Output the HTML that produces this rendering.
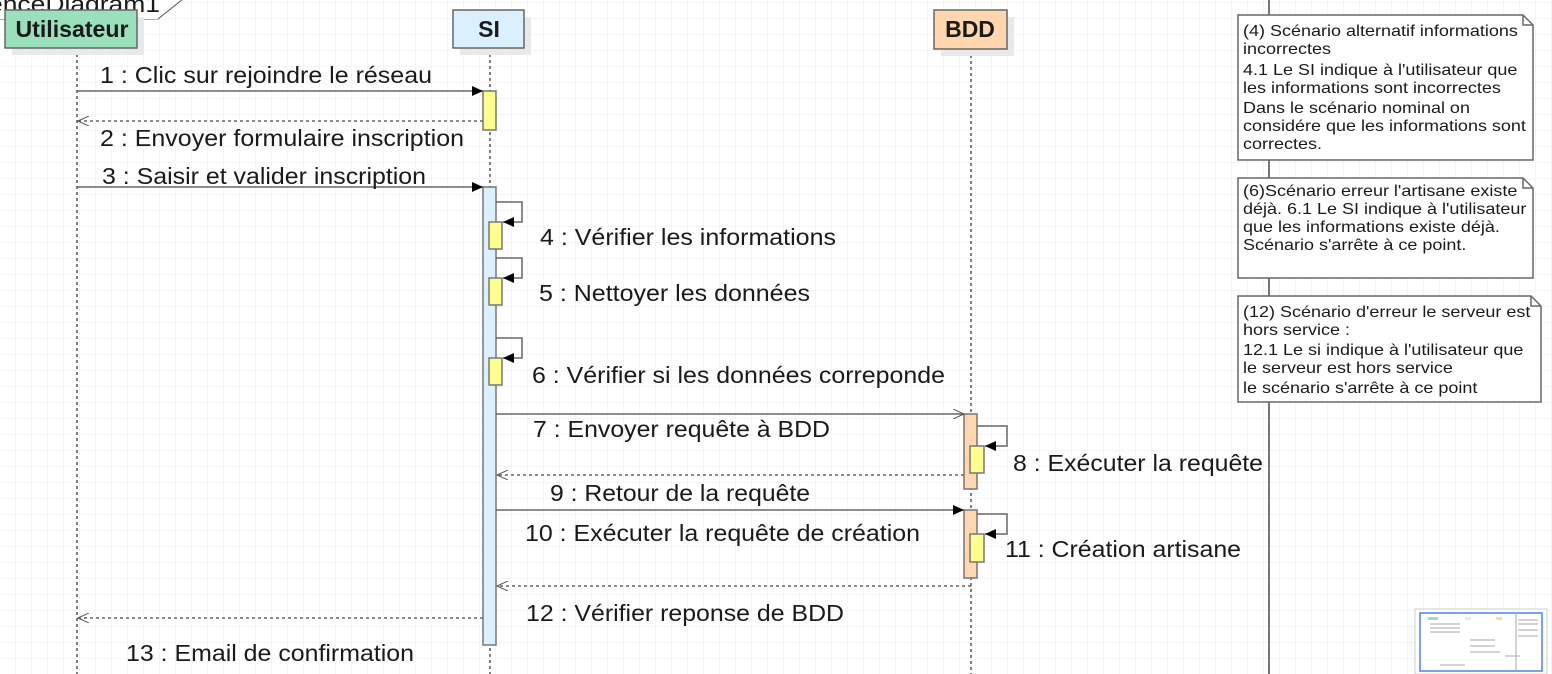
<!DOCTYPE html>
<html><head><meta charset="utf-8"><style>
html,body{margin:0;padding:0;width:1552px;height:674px;overflow:hidden;background:#fff;}
svg{display:block;}
text{font-family:"Liberation Sans",sans-serif;fill:#1a1a1a;}
</style></head><body>
<svg width="1552" height="674" viewBox="0 0 1552 674" xmlns="http://www.w3.org/2000/svg">
<defs>
<pattern id="g" x="15" y="2" width="16" height="16" patternUnits="userSpaceOnUse">
<path d="M0 0H16M0 0V16" stroke="#ebebeb" stroke-width="1" fill="none"/>
</pattern>
<marker id="fa" markerWidth="12" markerHeight="10" refX="11" refY="5" orient="auto" markerUnits="userSpaceOnUse"><path d="M0 0L11 5L0 10Z" fill="#000"/></marker>
<marker id="oa" markerWidth="12" markerHeight="10" refX="11" refY="5" orient="auto" markerUnits="userSpaceOnUse"><path d="M0 0L11 5L0 10" fill="none" stroke="#555" stroke-width="1"/></marker>
</defs>
<rect width="1552" height="674" fill="url(#g)"/>
<path d="M0 19H158L183 -1" fill="#fff" stroke="#555" stroke-width="1"/>
<rect x="0" y="0" width="158" height="19" fill="#fff"/>
<text x="-12" y="12" font-size="23" textLength="172" lengthAdjust="spacingAndGlyphs">enceDiagram1</text>
<line x1="1269" y1="0" x2="1269" y2="674" stroke="#777" stroke-width="2"/>
<g stroke="#000" stroke-width="1" stroke-dasharray="3,3">
<line x1="77" y1="48" x2="77" y2="674"/>
<line x1="490" y1="48" x2="490" y2="674"/>
<line x1="971" y1="49" x2="971" y2="674"/>
</g>
<rect x="12" y="17" width="132" height="38" fill="#e9e9e9"/>
<rect x="5" y="10" width="132" height="38" fill="#9be0bc" stroke="#666" stroke-width="1.5"/>
<text x="72" y="37" font-size="23" font-weight="bold" text-anchor="middle" textLength="113" lengthAdjust="spacingAndGlyphs">Utilisateur</text>
<rect x="460" y="17" width="71" height="38" fill="#e9e9e9"/>
<rect x="453" y="10" width="71" height="38" fill="#daf0fc" stroke="#666" stroke-width="1.5"/>
<text x="489" y="37" font-size="23" font-weight="bold" text-anchor="middle">SI</text>
<rect x="941" y="17" width="73" height="39" fill="#e9e9e9"/>
<rect x="934" y="10" width="73" height="39" fill="#ffd6ad" stroke="#666" stroke-width="1.5"/>
<text x="970" y="37" font-size="23" font-weight="bold" text-anchor="middle">BDD</text>
<rect x="483" y="91" width="13" height="39" fill="#fefe8f" stroke="#777" stroke-width="1.5"/>
<rect x="483" y="187" width="13" height="458" fill="#daf0fc" stroke="#777" stroke-width="1.5"/>
<g fill="#fefe8f" stroke="#777" stroke-width="1.5">
<rect x="489" y="222" width="13" height="27"/>
<rect x="489" y="278" width="13" height="27"/>
<rect x="489" y="358" width="13" height="27"/>
</g>
<rect x="964" y="414" width="13" height="75" fill="#ffd6ad" stroke="#777" stroke-width="1.5"/>
<rect x="970" y="446" width="14" height="27" fill="#fefe8f" stroke="#777" stroke-width="1.5"/>
<rect x="964" y="510" width="13" height="68" fill="#ffd6ad" stroke="#777" stroke-width="1.5"/>
<rect x="970" y="534" width="14" height="28" fill="#fefe8f" stroke="#777" stroke-width="1.5"/>
<g fill="none" stroke="#666" stroke-width="1.5" marker-end="url(#fa)">
<path d="M496 202H522V222H503"/>
<path d="M496 258H522V278H503"/>
<path d="M496 338H522V358H503"/>
<path d="M977 426H1007V446H985"/>
<path d="M977 514H1007V534H985"/>
</g>
<g fill="none" stroke="#666" stroke-width="1.5">
<line x1="77" y1="91" x2="483" y2="91" marker-end="url(#fa)"/>
<line x1="77" y1="187" x2="483" y2="187" marker-end="url(#fa)"/>
<line x1="496" y1="414" x2="964" y2="414" marker-end="url(#oa)"/>
<line x1="496" y1="510" x2="964" y2="510" marker-end="url(#fa)"/>
</g>
<g fill="none" stroke="#666" stroke-width="1.5" stroke-dasharray="3,3">
<line x1="483" y1="121" x2="78" y2="121" marker-end="url(#oa)"/>
<line x1="964" y1="475" x2="497" y2="475" marker-end="url(#oa)"/>
<line x1="971" y1="586" x2="497" y2="586" marker-end="url(#oa)"/>
<line x1="483" y1="618" x2="78" y2="618" marker-end="url(#oa)"/>
</g>
<g font-size="23">
<text x="100" y="83" textLength="332" lengthAdjust="spacingAndGlyphs">1 : Clic sur rejoindre le réseau</text>
<text x="100" y="146" textLength="364" lengthAdjust="spacingAndGlyphs">2 : Envoyer formulaire inscription</text>
<text x="102" y="184" textLength="324" lengthAdjust="spacingAndGlyphs">3 : Saisir et valider inscription</text>
<text x="540" y="245" textLength="296" lengthAdjust="spacingAndGlyphs">4 : Vérifier les informations</text>
<text x="539" y="301" textLength="271" lengthAdjust="spacingAndGlyphs">5 : Nettoyer les données</text>
<text x="532" y="383" textLength="413" lengthAdjust="spacingAndGlyphs">6 : Vérifier si les données correponde</text>
<text x="533" y="437" textLength="297" lengthAdjust="spacingAndGlyphs">7 : Envoyer requête à BDD</text>
<text x="1013" y="471" textLength="250" lengthAdjust="spacingAndGlyphs">8 : Exécuter la requête</text>
<text x="550" y="501" textLength="260" lengthAdjust="spacingAndGlyphs">9 : Retour de la requête</text>
<text x="525" y="541" textLength="395" lengthAdjust="spacingAndGlyphs">10 : Exécuter la requête de création</text>
<text x="1005" y="557" textLength="236" lengthAdjust="spacingAndGlyphs">11 : Création artisane</text>
<text x="526" y="621" textLength="318" lengthAdjust="spacingAndGlyphs">12 : Vérifier reponse de BDD</text>
<text x="126" y="661" textLength="288" lengthAdjust="spacingAndGlyphs">13 : Email de confirmation</text>
</g>
<g fill="#fff" stroke="#666" stroke-width="1.5">
<path d="M1238 15H1523L1533 25V160H1238Z"/><path d="M1523 15V25H1533" fill="none"/>
<path d="M1238 178H1523L1533 188V278H1238Z"/><path d="M1523 178V188H1533" fill="none"/>
<path d="M1238 296H1531L1541 306V402H1238Z"/><path d="M1531 296V306H1541" fill="none"/>
</g>
<g font-size="16" transform="translate(1243,0) scale(1.125,1) translate(-1243,0)">
<text x="1243" y="36">(4) Scénario alternatif informations</text>
<text x="1243" y="54">incorrectes</text>
<text x="1243" y="75">4.1 Le SI indique à l'utilisateur que</text>
<text x="1243" y="93">les informations sont incorrectes</text>
<text x="1243" y="113">Dans le scénario nominal on</text>
<text x="1243" y="131">considére que les informations sont</text>
<text x="1243" y="149">correctes.</text>
<text x="1243" y="196">(6)Scénario erreur l'artisane existe</text>
<text x="1243" y="214">déjà. 6.1 Le SI indique à l'utilisateur</text>
<text x="1243" y="232">que les informations existe déjà.</text>
<text x="1243" y="250">Scénario s'arrête à ce point.</text>
<text x="1243" y="317">(12) Scénario d'erreur le serveur est</text>
<text x="1243" y="335">hors service :</text>
<text x="1243" y="355">12.1 Le si indique à l'utilisateur que</text>
<text x="1243" y="373">le serveur est hors service</text>
<text x="1243" y="393">le scénario s'arrête à ce point</text>
</g>
<rect x="1415" y="609" width="132" height="65" fill="#fff" stroke="#ccc" stroke-width="1"/>
<rect x="1420" y="613" width="122" height="58" fill="#fff" stroke="#4a86e8" stroke-width="1.5"/>
<rect x="1428" y="617" width="10" height="3" fill="#9be0bc"/>
<rect x="1465" y="617" width="6" height="3" fill="#daf0fc"/>
<rect x="1496" y="617" width="6" height="3" fill="#ffd6ad"/>
<g stroke="#aaa" stroke-width="1">
<line x1="1430" y1="624" x2="1460" y2="624"/><line x1="1430" y1="628" x2="1460" y2="628"/>
<line x1="1430" y1="632" x2="1460" y2="632"/><line x1="1470" y1="640" x2="1495" y2="640"/>
<line x1="1470" y1="646" x2="1495" y2="646"/><line x1="1470" y1="652" x2="1500" y2="652"/>
<line x1="1505" y1="656" x2="1520" y2="656"/><line x1="1440" y1="665" x2="1465" y2="665"/>
<line x1="1518" y1="620" x2="1538" y2="620"/><line x1="1518" y1="624" x2="1538" y2="624"/>
<line x1="1518" y1="630" x2="1538" y2="630"/><line x1="1518" y1="636" x2="1538" y2="636"/>
<line x1="1516" y1="613" x2="1516" y2="671"/>
</g>
</svg>
</body></html>
